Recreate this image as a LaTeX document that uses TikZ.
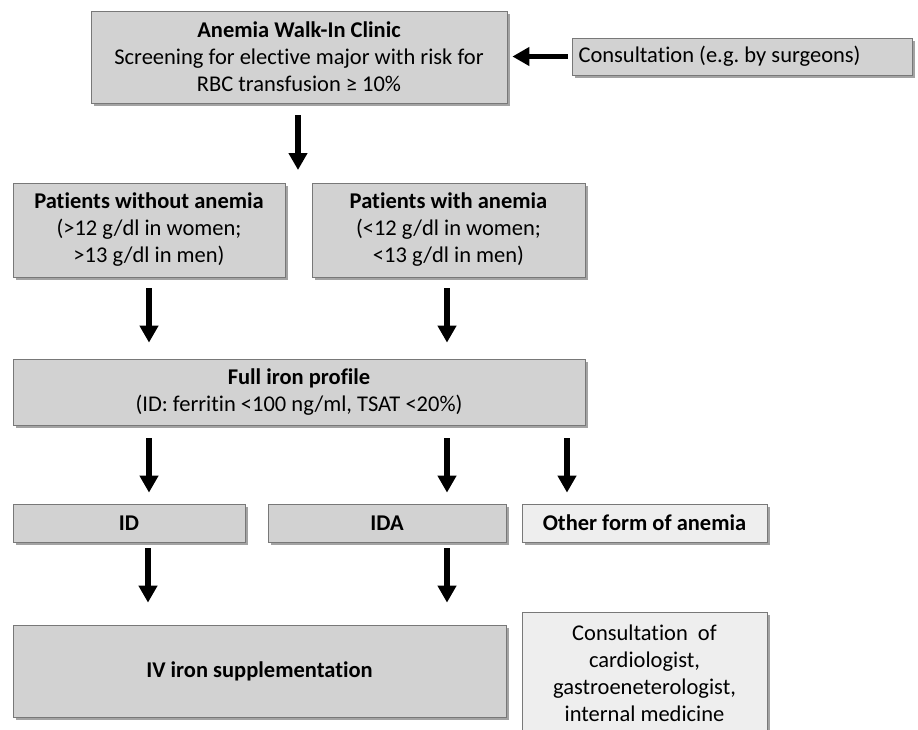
\documentclass[tikz,border=0pt]{standalone}
\usepackage{fontspec}
\setmainfont[Ligatures={NoCommon}]{Carlito}
\usetikzlibrary{arrows.meta,shadows}
\definecolor{boxdark}{RGB}{210,210,210}
\definecolor{boxlight}{RGB}{238,238,238}
\definecolor{boxline}{RGB}{120,120,120}
\begin{document}
\frenchspacing
\begin{tikzpicture}[x=1pt,y=-1pt,
  box/.style={draw=boxline, line width=0.8pt, fill=boxdark, align=center, inner sep=0pt,
    font=\fontsize{22.5}{27}\selectfont,
    drop shadow={shadow xshift=2.5pt, shadow yshift=-2.5pt, fill=black!60, opacity=0.6}},
  lbox/.style={box, fill=boxlight},
  arr/.style={line width=5.5pt, -{Triangle[length=17pt,width=18pt]}}
]
\useasboundingbox (0,0) rectangle (918,729);
\clip (0,0) rectangle (918,729);

% nodes
\node[box, minimum width=416pt, minimum height=92pt] (top) at (299,57)
  {\textbf{Anemia Walk-In Clinic}\\Screening for elective major with risk for\\RBC transfusion ≥ 10\%};
\node[box, minimum width=340pt, minimum height=37pt, text width=327pt, align=flush left] (cons) at (742,56.5)
  {Consultation (e.g. by surgeons)};
\node[box, minimum width=272pt, minimum height=94pt] (pwo) at (149,230)
  {\textbf{Patients without anemia}\\(>12 g/dl in women;\\>13 g/dl in men)};
\node[box, minimum width=273pt, minimum height=94pt] (pw) at (448.5,230)
  {\textbf{Patients with anemia}\\(<12 g/dl in women;\\<13 g/dl in men)};
\node[box, minimum width=572pt, minimum height=66pt] (iron) at (299,392)
  {\textbf{Full iron profile}\\(ID: ferritin <100 ng/ml, TSAT <20\%)};
\node[box, minimum width=232pt, minimum height=38pt] (id) at (129,523) {\textbf{ID}};
\node[box, minimum width=238pt, minimum height=38pt] (ida) at (387,523) {\textbf{IDA}};
\node[lbox, minimum width=245pt, minimum height=38pt] (other) at (644.5,523) {\textbf{Other form of anemia}};
\node[box, minimum width=493pt, minimum height=92pt] (iv) at (259.5,671) {\textbf{IV iron supplementation}};
\node[lbox, minimum width=245pt, minimum height=123pt] (cof) at (644.5,673.5)
  {Consultation\ \ of\\cardiologist,\\gastroeneterologist,\\internal medicine};

% helper coordinates
\coordinate (split) at (298,183);
\coordinate (xa) at (149,0);
\coordinate (xb) at (447,0);
\coordinate (xc) at (567,0);
\coordinate (xd) at (148,0);

% connectors
\draw[arr, shorten <=4pt, shorten >=5pt] (cons.west) -- (top.east |- cons.west);
\draw[arr, shorten <=12pt, shorten >=13pt] (top.south -| split) -- (split);
\draw[arr, shorten <=11pt, shorten >=16pt] (pwo.south) -- (iron.north -| pwo.south);
\draw[arr, shorten <=11pt, shorten >=16pt] (pw.south -| xb) -- (iron.north -| xb);
\draw[arr, shorten <=13pt, shorten >=11pt] (iron.south -| xa) -- (id.north -| xa);
\draw[arr, shorten <=13pt, shorten >=11pt] (iron.south -| xb) -- (ida.north -| xb);
\draw[arr, shorten <=13pt, shorten >=11pt] (iron.south -| xc) -- (other.north -| xc);
\draw[arr, shorten <=6pt, shorten >=22pt] (id.south -| xd) -- (iv.north -| xd);
\draw[arr, shorten <=6pt, shorten >=22pt] (ida.south -| xb) -- (iv.north -| xb);
\end{tikzpicture}
\end{document}
